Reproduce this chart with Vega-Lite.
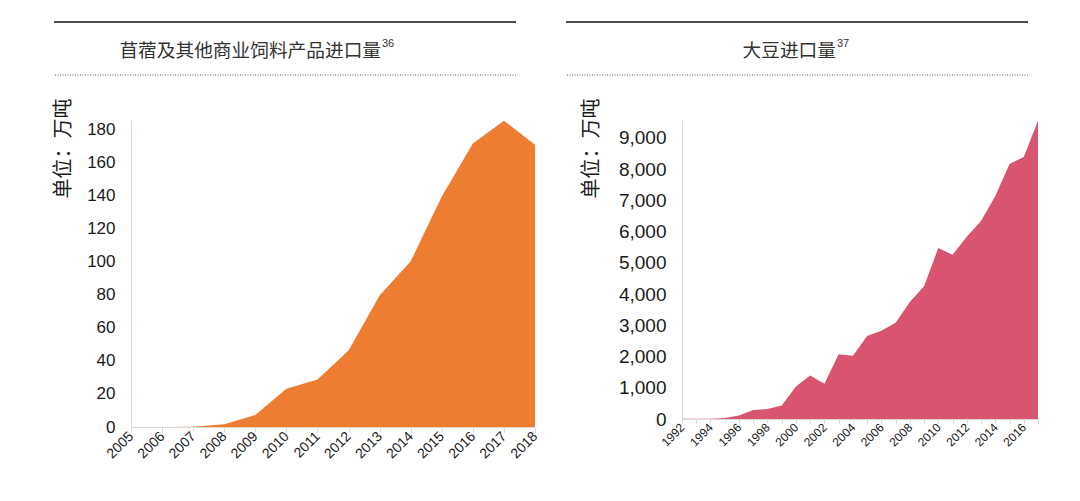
{
  "$schema": "https://vega.github.io/schema/vega-lite/v6.json",
  "background": "white",
  "padding": {"left": 53, "top": 16, "right": 0, "bottom": 0},
  "config": {
    "view": {"stroke": null},
    "font": "Liberation Sans",
    "axis": {"grid": false, "domainColor": "#d9d9d9", "tickColor": "#d9d9d9", "labelColor": "#1a1a1a", "titleColor": "#1a1a1a", "titleFont": "Noto Sans CJK SC", "titleFontWeight": "normal", "labelFont": "Liberation Sans"}
  },
  "columns": 3,
  "align": "none",
  "spacing": {"row": 21, "column": -13},
  "datasets": {
    "feed": [
      {"year": 2005, "v": 0}, {"year": 2006, "v": 0}, {"year": 2007, "v": 0.2}, {"year": 2008, "v": 1.6},
      {"year": 2009, "v": 7.3}, {"year": 2010, "v": 23.2}, {"year": 2011, "v": 28.8}, {"year": 2012, "v": 46.4},
      {"year": 2013, "v": 79.6}, {"year": 2014, "v": 100.4}, {"year": 2015, "v": 139.7}, {"year": 2016, "v": 171.7},
      {"year": 2017, "v": 185.6}, {"year": 2018, "v": 171}
    ],
    "soy": [
      {"year": 1992, "v": 12}, {"year": 1993, "v": 10}, {"year": 1994, "v": 5}, {"year": 1995, "v": 30},
      {"year": 1996, "v": 111}, {"year": 1997, "v": 288}, {"year": 1998, "v": 320}, {"year": 1999, "v": 432},
      {"year": 2000, "v": 1042}, {"year": 2001, "v": 1394}, {"year": 2002, "v": 1131}, {"year": 2003, "v": 2074},
      {"year": 2004, "v": 2023}, {"year": 2005, "v": 2659}, {"year": 2006, "v": 2827}, {"year": 2007, "v": 3082},
      {"year": 2008, "v": 3744}, {"year": 2009, "v": 4255}, {"year": 2010, "v": 5480}, {"year": 2011, "v": 5264},
      {"year": 2012, "v": 5838}, {"year": 2013, "v": 6338}, {"year": 2014, "v": 7140}, {"year": 2015, "v": 8169},
      {"year": 2016, "v": 8391}, {"year": 2017, "v": 9553}
    ],
    "titles": [
      {"id": "feed", "t": "苜蓿及其他商业饲料产品进口量", "sup": "36"},
      {"id": "soy", "t": "大豆进口量", "sup": "37"}
    ],
    "blank": [{"t": ""}]
  },
  "concat": [
    {
      "width": 1, "height": 1,
      "data": {"name": "blank"},
      "mark": {"type": "text"},
      "encoding": {"text": {"field": "t"}}
    },
    {
      "width": 462, "height": 53,
      "data": {"name": "titles"},
      "transform": [{"filter": "datum.id == 'feed'"}],
      "layer": [
        {"mark": {"type": "rule", "color": "#4d4d4d", "strokeWidth": 2},
         "encoding": {"y": {"datum": 1, "type": "quantitative", "scale": {"domain": [0, 1]}, "axis": null}}},
        {"mark": {"type": "rule", "color": "#555555", "strokeWidth": 1, "strokeDash": [1, 1.5]},
         "encoding": {"y": {"datum": 0, "type": "quantitative", "scale": {"domain": [0, 1]}, "axis": null}}},
        {"mark": {"type": "text", "font": "Noto Sans CJK SC", "fontSize": 18.7, "color": "#333333", "baseline": "middle", "align": "right"},
         "encoding": {
           "x": {"datum": 0.7078, "type": "quantitative", "scale": {"domain": [0, 1]}, "axis": null},
           "y": {"datum": 0.45, "type": "quantitative", "scale": {"domain": [0, 1]}, "axis": null},
           "text": {"field": "t"}
         }},
        {"mark": {"type": "text", "font": "Liberation Sans", "fontSize": 11, "color": "#333333", "baseline": "middle", "align": "left", "dy": -7, "dx": 1},
         "encoding": {
           "x": {"datum": 0.7078, "type": "quantitative", "scale": {"domain": [0, 1]}, "axis": null},
           "y": {"datum": 0.45, "type": "quantitative", "scale": {"domain": [0, 1]}, "axis": null},
           "text": {"field": "sup"}
         }}
      ]
    },
    {
      "width": 462, "height": 53,
      "data": {"name": "titles"},
      "transform": [{"filter": "datum.id == 'soy'"}],
      "layer": [
        {"mark": {"type": "rule", "color": "#4d4d4d", "strokeWidth": 2},
         "encoding": {"y": {"datum": 1, "type": "quantitative", "scale": {"domain": [0, 1]},
                            "axis": {"orient": "left", "domain": false, "ticks": false, "labels": false, "title": "·", "titleFontSize": 10, "titleOpacity": 0, "titlePadding": 52}}}},
        {"mark": {"type": "rule", "color": "#555555", "strokeWidth": 1, "strokeDash": [1, 1.5]},
         "encoding": {"y": {"datum": 0, "type": "quantitative", "scale": {"domain": [0, 1]}}}},
        {"mark": {"type": "text", "font": "Noto Sans CJK SC", "fontSize": 18.7, "color": "#333333", "baseline": "middle", "align": "right"},
         "encoding": {
           "x": {"datum": 0.5844, "type": "quantitative", "scale": {"domain": [0, 1]}, "axis": null},
           "y": {"datum": 0.45, "type": "quantitative", "scale": {"domain": [0, 1]}},
           "text": {"field": "t"}
         }},
        {"mark": {"type": "text", "font": "Liberation Sans", "fontSize": 11, "color": "#333333", "baseline": "middle", "align": "left", "dy": -7, "dx": 1},
         "encoding": {
           "x": {"datum": 0.5844, "type": "quantitative", "scale": {"domain": [0, 1]}, "axis": null},
           "y": {"datum": 0.45, "type": "quantitative", "scale": {"domain": [0, 1]}},
           "text": {"field": "sup"}
         }}
      ]
    },
    {
      "width": 1, "height": 1,
      "data": {"name": "blank"},
      "mark": {"type": "text"},
      "encoding": {"text": {"field": "t"}}
    },
    {
      "width": 404, "height": 307,
      "data": {"name": "feed"},
      "mark": {"type": "area", "color": "#ED7D31", "opacity": 1},
      "encoding": {
        "x": {"field": "year", "type": "quantitative",
              "scale": {"domain": [2005, 2018], "nice": false, "zero": false},
              "axis": {"values": [2005, 2006, 2007, 2008, 2009, 2010, 2011, 2012, 2013, 2014, 2015, 2016, 2017, 2018],
                       "format": "d", "labelAngle": -45, "labelAlign": "right", "labelBaseline": "middle", "labelFontSize": 14, "tickSize": 5, "labelPadding": 2, "title": null, "labelOverlap": false, "labelFlush": false}},
        "y": {"field": "v", "type": "quantitative",
              "scale": {"domain": [0, 186], "nice": false},
              "axis": {"values": [0, 20, 40, 60, 80, 100, 120, 140, 160, 180], "ticks": false, "labelPadding": 16, "labelFontSize": 17,
                       "title": "单位：万吨", "titleFontSize": 20, "titleAnchor": "end", "titleAlign": "right", "titleY": -22, "titlePadding": 13}}
      }
    },
    {
      "width": 356, "height": 299,
      "data": {"name": "soy"},
      "mark": {"type": "area", "color": "#D9546E", "opacity": 1},
      "encoding": {
        "x": {"field": "year", "type": "quantitative",
              "scale": {"domain": [1992, 2017], "nice": false, "zero": false},
              "axis": {"values": [1992, 1993, 1994, 1995, 1996, 1997, 1998, 1999, 2000, 2001, 2002, 2003, 2004, 2005, 2006, 2007, 2008, 2009, 2010, 2011, 2012, 2013, 2014, 2015, 2016, 2017],
                       "format": "d", "labelExpr": "datum.value % 2 == 0 ? datum.label : ''",
                       "labelAngle": -45, "labelAlign": "right", "labelBaseline": "middle", "labelFontSize": 12, "tickSize": 4, "labelPadding": 2, "title": null, "labelOverlap": false, "labelFlush": false}},
        "y": {"field": "v", "type": "quantitative",
              "scale": {"domain": [0, 9576], "nice": false},
              "axis": {"values": [0, 1000, 2000, 3000, 4000, 5000, 6000, 7000, 8000, 9000], "format": ",d", "ticks": false, "labelPadding": 16, "labelFontSize": 19,
                       "title": "单位：万吨", "titleFontSize": 20, "titleAnchor": "end", "titleAlign": "right", "titleY": -22, "titlePadding": 17}}
      }
    }
  ]
}
